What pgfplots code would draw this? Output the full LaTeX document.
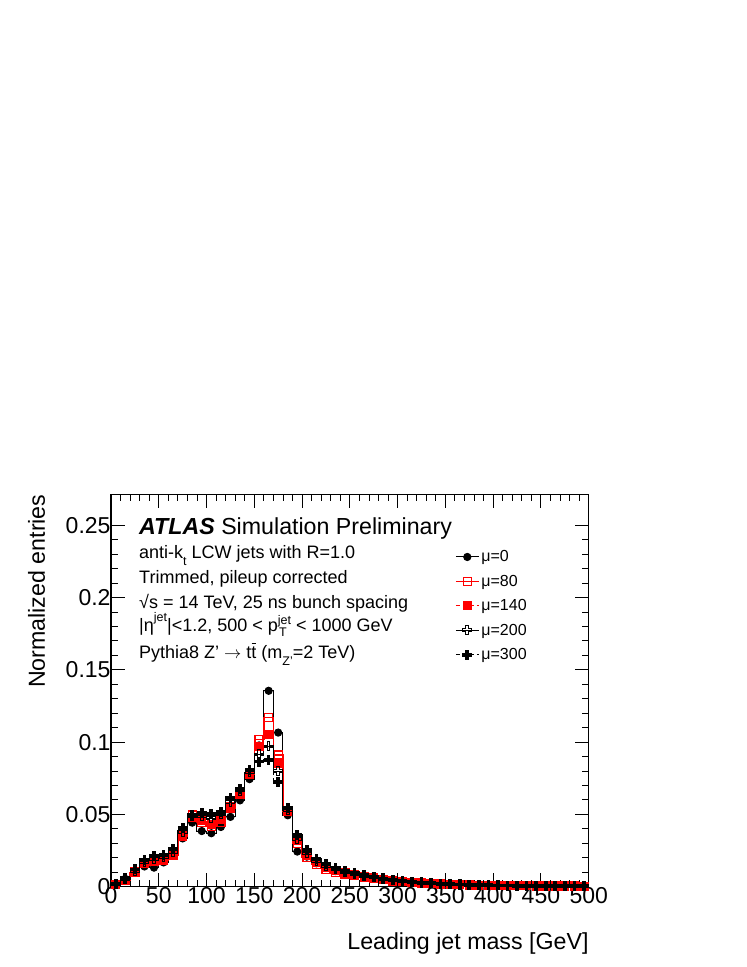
\documentclass[border=0pt]{standalone}
\usepackage{fontspec}
\setmainfont{Liberation Sans}
\usepackage{pgfplots}
\pgfplotsset{compat=1.18}
\usepackage{pgfplotstable}

\pgfdeclareplotmark{ocross}{%
 \pgfpathmoveto{\pgfqpoint{-0.3\pgfplotmarksize}{\pgfplotmarksize}}%
 \pgfpathlineto{\pgfqpoint{0.3\pgfplotmarksize}{\pgfplotmarksize}}%
 \pgfpathlineto{\pgfqpoint{0.3\pgfplotmarksize}{0.3\pgfplotmarksize}}%
 \pgfpathlineto{\pgfqpoint{\pgfplotmarksize}{0.3\pgfplotmarksize}}%
 \pgfpathlineto{\pgfqpoint{\pgfplotmarksize}{-0.3\pgfplotmarksize}}%
 \pgfpathlineto{\pgfqpoint{0.3\pgfplotmarksize}{-0.3\pgfplotmarksize}}%
 \pgfpathlineto{\pgfqpoint{0.3\pgfplotmarksize}{-\pgfplotmarksize}}%
 \pgfpathlineto{\pgfqpoint{-0.3\pgfplotmarksize}{-\pgfplotmarksize}}%
 \pgfpathlineto{\pgfqpoint{-0.3\pgfplotmarksize}{-0.3\pgfplotmarksize}}%
 \pgfpathlineto{\pgfqpoint{-\pgfplotmarksize}{-0.3\pgfplotmarksize}}%
 \pgfpathlineto{\pgfqpoint{-\pgfplotmarksize}{0.3\pgfplotmarksize}}%
 \pgfpathlineto{\pgfqpoint{-0.3\pgfplotmarksize}{0.3\pgfplotmarksize}}%
 \pgfpathclose\pgfusepathqstroke}
\pgfdeclareplotmark{fcross}{%
 \pgfpathmoveto{\pgfqpoint{-0.3\pgfplotmarksize}{\pgfplotmarksize}}%
 \pgfpathlineto{\pgfqpoint{0.3\pgfplotmarksize}{\pgfplotmarksize}}%
 \pgfpathlineto{\pgfqpoint{0.3\pgfplotmarksize}{0.3\pgfplotmarksize}}%
 \pgfpathlineto{\pgfqpoint{\pgfplotmarksize}{0.3\pgfplotmarksize}}%
 \pgfpathlineto{\pgfqpoint{\pgfplotmarksize}{-0.3\pgfplotmarksize}}%
 \pgfpathlineto{\pgfqpoint{0.3\pgfplotmarksize}{-0.3\pgfplotmarksize}}%
 \pgfpathlineto{\pgfqpoint{0.3\pgfplotmarksize}{-\pgfplotmarksize}}%
 \pgfpathlineto{\pgfqpoint{-0.3\pgfplotmarksize}{-\pgfplotmarksize}}%
 \pgfpathlineto{\pgfqpoint{-0.3\pgfplotmarksize}{-0.3\pgfplotmarksize}}%
 \pgfpathlineto{\pgfqpoint{-\pgfplotmarksize}{-0.3\pgfplotmarksize}}%
 \pgfpathlineto{\pgfqpoint{-\pgfplotmarksize}{0.3\pgfplotmarksize}}%
 \pgfpathlineto{\pgfqpoint{-0.3\pgfplotmarksize}{0.3\pgfplotmarksize}}%
 \pgfpathclose\pgfusepathqfillstroke}
\pgfdeclareplotmark{osq}{%
 \pgfpathrectangle{\pgfqpoint{-\pgfplotmarksize}{-\pgfplotmarksize}}{\pgfqpoint{2\pgfplotmarksize}{2\pgfplotmarksize}}%
 \pgfusepathqstroke}

\definecolor{rootred}{RGB}{255,0,0}
\newcommand\subsz{\fontsize{12.5bp}{13bp}\selectfont}
\newcommand\lo[1]{\raisebox{-0.38em}{\subsz #1}}
\newcommand\hi[1]{\raisebox{0.55em}{\subsz #1}}
\newcommand\tbar{\hbox{\rlap{\raisebox{0.80em}{\kern0.01em\rule{0.27em}{0.07em}}}t}}

\pgfplotstableread{
x mu0 mu80 mu140 mu200 mu300
5 .0015 .0015 .0018 .0020 .0022
15 .0054 .0042 .0045 .0050 .0060
25 .0106 .0100 .0102 .0110 .0120
35 .0140 .0160 .0162 .0170 .0187
45 .0132 .0178 .0180 .0190 .0210
55 .0168 .0185 .0190 .0205 .0220
65 .0225 .0220 .0230 .0240 .0263
75 .0334 .0350 .0360 .0380 .0405
85 .0443 .0495 .0480 .0490 .0495
95 .0385 .0445 .0460 .0490 .0510
105 .0370 .0415 .0430 .0475 .0505
115 .0413 .0445 .0465 .0500 .0520
125 .0483 .0545 .0555 .0585 .0612
135 .0597 .0645 .0635 .0665 .0677
145 .0744 .0785 .0775 .0790 .0805
155 .0977 .1017 .0970 .0915 .0865
165 .1355 .1170 .1050 .0970 .0877
175 .1066 .0910 .0855 .0800 .0725
185 .0494 .0525 .0520 .0530 .0545
195 .0243 .0300 .0320 .0330 .0360
205 .0208 .0200 .0215 .0230 .0255
215 .0162 .0155 .0165 .0180 .0192
225 .0130 .0120 .0130 .0145 .0155
235 .0108 .0100 .0110 .0120 .0128
245 .0092 .0088 .0095 .0102 .0110
255 .0083 .0080 .0085 .0090 .0095
265 .0070 .0068 .0072 .0076 .0080
275 .0058 .0057 .0060 .0064 .0068
285 .0048 .0048 .0051 .0054 .0057
295 .0040 .0040 .0043 .0046 .0048
305 .0034 .0034 .0036 .0038 .0041
315 .0029 .0029 .0031 .0033 .0035
325 .0024 .0025 .0026 .0028 .0030
335 .0020 .0021 .0022 .0024 .0025
345 .0017 .0018 .0019 .0020 .0022
355 .0015 .0015 .0016 .0017 .0019
365 .0013 .0013 .0014 .0015 .0016
375 .0011 .0011 .0012 .0013 .0014
385 .0010 .0010 .0011 .0011 .0012
395 .0009 .0009 .0009 .0010 .0011
405 .0008 .0008 .0008 .0009 .0009
415 .0007 .0007 .0007 .0008 .0008
425 .0006 .0006 .0007 .0007 .0007
435 .0006 .0006 .0006 .0006 .0007
445 .0005 .0005 .0005 .0006 .0006
455 .0005 .0005 .0005 .0005 .0005
465 .0004 .0004 .0005 .0005 .0005
475 .0004 .0004 .0004 .0004 .0005
485 .0004 .0004 .0004 .0004 .0004
495 .0003 .0003 .0003 .0004 .0004
}\data

\begin{document}
\begin{tikzpicture}
\useasboundingbox (-111bp,-80.3bp) rectangle (636bp,886.7bp);
\begin{axis}[
  scale only axis, width=477.7bp, height=392.4bp,
  xmin=0, xmax=500, ymin=0, ymax=0.2714,
  xtick={0,50,...,500}, ytick={0,0.05,0.1,0.15,0.2,0.25},
  minor x tick num=4, minor y tick num=4,
  major tick length=14bp, minor tick length=7bp,
  axis line style={line width=1.1bp}, every tick/.style={black, line width=0.9bp},
  tick label style={font=\fontsize{23bp}{23bp}\selectfont},
  /pgf/number format/assume math mode=true,
  yticklabel style={/pgf/number format/fixed, /pgf/number format/precision=2, xshift=3bp},
  xticklabel style={yshift=3bp},
  scaled y ticks=false,
  clip=false,
  legend style={at={(axis description cs:0.72,0.862)}, anchor=north west, draw=none, fill=none,
    font=\fontsize{16bp}{16bp}\selectfont, row sep=7.8bp, inner sep=0pt,
    nodes={inner sep=2pt}},
  legend cell align=left,
  legend image code/.code={\draw[mark repeat=2,mark phase=2,#1] plot coordinates {(0bp,0bp)(11.5bp,0bp)(23bp,0bp)};},
]
\addplot[color=black, line width=1bp, const plot mark mid, mark=*, mark size=3.6bp] table[x=x,y=mu0] {\data};
\addlegendentry{μ=0}
\addplot[draw=red, line width=1.3bp, const plot mark mid, mark=osq, mark size=4bp, mark options={solid, draw=red, line width=1.3bp}] table[x=x,y=mu80] {\data};
\addlegendentry{μ=80}
\addplot[color=rootred, line width=1.1bp, dash pattern=on 4bp off 3bp, const plot mark mid, mark=square*, mark size=4bp, mark options={solid, draw=rootred, fill=rootred}] table[x=x,y=mu140] {\data};
\addlegendentry{μ=140}
\addplot[color=black, line width=1bp, const plot mark mid, mark=ocross, mark size=4.5bp, mark options={solid}] table[x=x,y=mu200] {\data};
\addlegendentry{μ=200}
\addplot[color=black, line width=1bp, dash pattern=on 4bp off 3bp, const plot mark mid, mark=fcross, mark size=4.5bp, mark options={solid}] table[x=x,y=mu300] {\data};
\addlegendentry{μ=300}
\end{axis}
\node[anchor=base east, font=\fontsize{23.2bp}{24bp}\selectfont, inner sep=0pt] at (477.7bp,-62.3bp) {Leading jet mass [GeV]};
\node[anchor=base east, rotate=90, font=\fontsize{23.2bp}{24bp}\selectfont, inner sep=0pt] at (-66bp,392.4bp) {Normalized entries};
\begin{scope}[every node/.style={anchor=base west, inner sep=0pt}]
\node[font=\fontsize{23.2bp}{24bp}\selectfont] at (28bp,351.7bp) {\textbf{\textit{ATLAS}} Simulation Preliminary};
\node[font=\fontsize{18bp}{20bp}\selectfont] at (28bp,328.4bp) {anti-k\lo{t} LCW jets with R=1.0};
\node[font=\fontsize{18bp}{20bp}\selectfont] at (28bp,303.4bp) {Trimmed, pileup corrected};
\node[font=\fontsize{18bp}{20bp}\selectfont] at (28bp,277.7bp) {√s = 14 TeV, 25 ns bunch spacing};
\node[font=\fontsize{18bp}{20bp}\selectfont] at (28bp,255bp) {|η\hi{jet}|<1.2, 500 < p{\subsz\rlap{\raisebox{-0.38em}{\kern0.1em T}}\raisebox{0.55em}{jet}} < 1000 GeV};
\node[font=\fontsize{18bp}{20bp}\selectfont] at (28bp,228.4bp) {Pythia8 Z’ $\rightarrow$ t\tbar\ (m\lo{Z’}=2 TeV)};
\end{scope}
\end{tikzpicture}
\end{document}
